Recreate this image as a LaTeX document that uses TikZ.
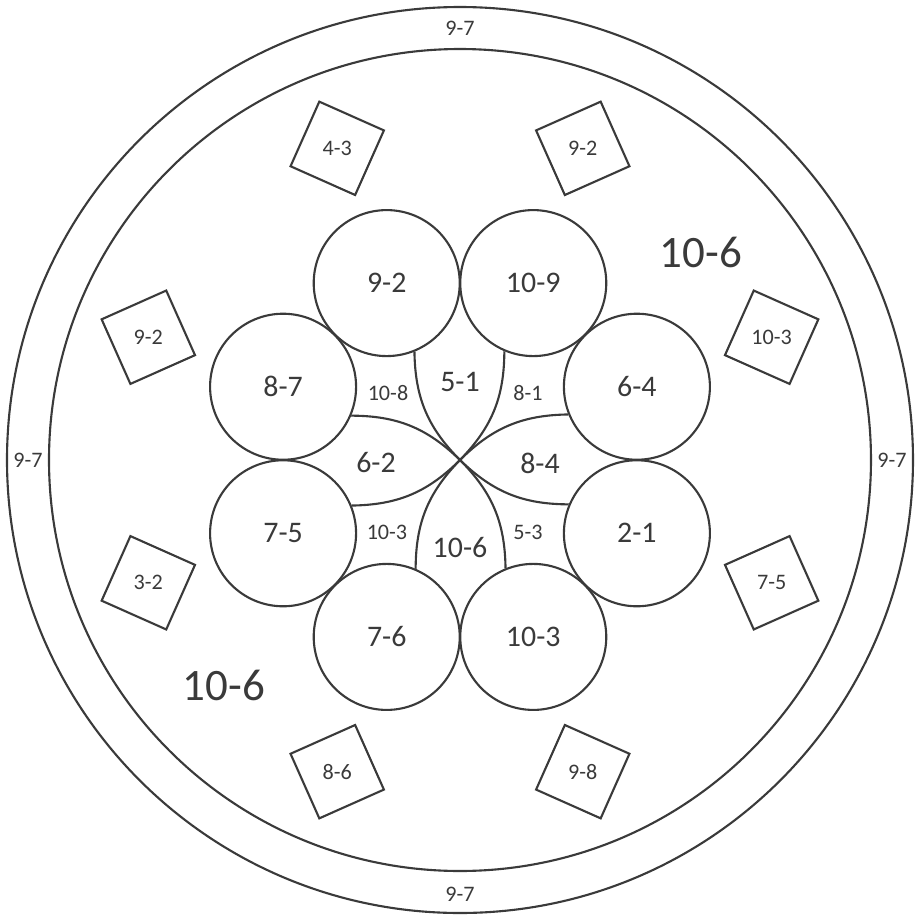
\documentclass[tikz,border=0pt]{standalone}
\usepackage{fontspec}
\setmainfont{Carlito}
\usetikzlibrary{shapes.geometric}
\definecolor{inkgrey}{HTML}{3A3A3A}
\newcommand{\bigsize}{\fontsize{12.8}{15}\selectfont}
\newcommand{\midsize}{\fontsize{8.5}{10}\selectfont}
\newcommand{\smallsize}{\fontsize{6.3}{7.5}\selectfont}

\begin{document}
\begin{tikzpicture}[line width=0.6pt, color=inkgrey,
  bloom/.style={circle, draw, minimum size=1.46cm, inner sep=0pt, font=\midsize},
  tile/.style={regular polygon, regular polygon sides=4, draw, minimum size=1.0cm,
    inner sep=0pt, font=\smallsize},
  lab/.style={inner sep=1pt}]
  \useasboundingbox (-4.60,-4.57) rectangle (4.56,4.60);
  \coordinate (O) at (0, 0);

  \draw (O) circle (4.53);
  \draw (O) circle (4.11);

  \node[bloom] (b1) at (22.5:1.915)  {6-4};
  \node[bloom] (b2) at (67.5:1.915)  {10-9};
  \node[bloom] (b3) at (112.5:1.915) {9-2};
  \node[bloom] (b4) at (157.5:1.915) {8-7};
  \node[bloom] (b5) at (202.5:1.915) {7-5};
  \node[bloom] (b6) at (247.5:1.915) {7-6};
  \node[bloom] (b7) at (292.5:1.915) {10-3};
  \node[bloom] (b8) at (337.5:1.915) {2-1};

  \draw (O) to[bend left=22]  (b1.202.5);
  \draw (O) to[bend right=22] (b2.247.5);
  \draw (O) to[bend left=22]  (b3.292.5);
  \draw (O) to[bend right=22] (b4.337.5);
  \draw (O) to[bend left=22]  (b5.22.5);
  \draw (O) to[bend right=22] (b6.67.5);
  \draw (O) to[bend left=22]  (b7.112.5);
  \draw (O) to[bend right=22] (b8.157.5);

  \node[lab, font=\midsize]   (p1) at (0.00, 0.78)   {5-1};
  \node[lab, font=\midsize]   (p2) at (-0.84, -0.03) {6-2};
  \node[lab, font=\midsize]   (p3) at (0.80, -0.03)  {8-4};
  \node[lab, font=\midsize]   (p4) at (0.00, -0.88)  {10-6};
  \node[lab, font=\smallsize] (q1) at (-0.72, 0.67)  {10-8};
  \node[lab, font=\smallsize] (q2) at (0.68, 0.67)   {8-1};
  \node[lab, font=\smallsize] (q3) at (-0.73, -0.72) {10-3};
  \node[lab, font=\smallsize] (q4) at (0.68, -0.72)  {5-3};

  \node[tile, shape border rotate=-24] (t1) at (21.5:3.35)  {10-3};
  \node[tile, shape border rotate=24]  (t2) at (68.5:3.35)  {9-2};
  \node[tile, shape border rotate=-24] (t3) at (111.5:3.35) {4-3};
  \node[tile, shape border rotate=24]  (t4) at (158.5:3.35) {9-2};
  \node[tile, shape border rotate=-24] (t5) at (201.5:3.35) {3-2};
  \node[tile, shape border rotate=24]  (t6) at (248.5:3.35) {8-6};
  \node[tile, shape border rotate=-24] (t7) at (291.5:3.35) {9-8};
  \node[tile, shape border rotate=24]  (t8) at (338.5:3.35) {7-5};

  \node[lab, font=\bigsize] (big1) at (2.41, 2.08)   {10-6};
  \node[lab, font=\bigsize] (big2) at (-2.36, -2.25) {10-6};

  \node[lab, font=\smallsize] (r1) at (90:4.32)  {9-7};
  \node[lab, font=\smallsize] (r2) at (0:4.32)   {9-7};
  \node[lab, font=\smallsize] (r3) at (180:4.32) {9-7};
  \node[lab, font=\smallsize] (r4) at (270:4.34) {9-7};
\end{tikzpicture}
\end{document}
